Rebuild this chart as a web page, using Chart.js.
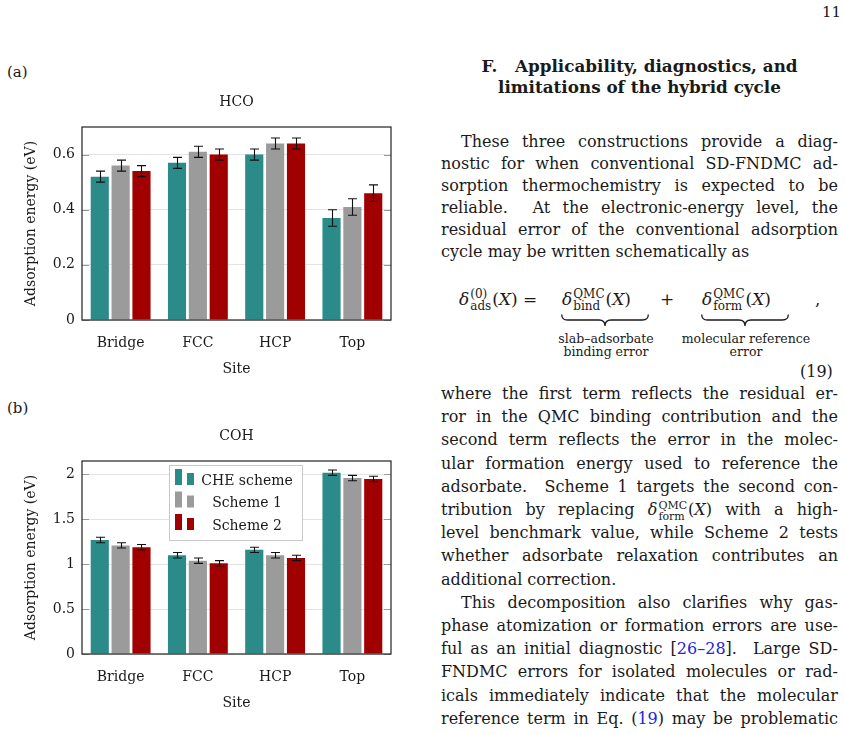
<!DOCTYPE html>
<html>
<head>
<meta charset="utf-8">
<script src="https://cdn.jsdelivr.net/npm/chart.js@4.4.1/dist/chart.umd.min.js"></script>
<style>
  body { margin: 0; background: #fff; }
  #page { position: relative; width: 845px; height: 734px; overflow: hidden;
          font-family: "DejaVu Serif", serif; color: #1a1a1a; }
  .abs { position: absolute; white-space: nowrap; }
  .ln { position: absolute; left: 441px; width: 397px; height: 22px; line-height: 22px;
        font-size: 16px; text-align: justify; text-align-last: justify; }
  .ln.last { text-align-last: left; }
  .ln.ind { text-indent: 20px; }
  .head { position: absolute; left: 441px; width: 397px; text-align: center; font-weight: bold;
          font-size: 16.8px; line-height: 22px; height: 22px; }
  .ss { display: inline-flex; flex-direction: column; font-size: 11px; line-height: 11px;
        vertical-align: 6px; margin: 0 1px; }
  .eq { position: absolute; font-size: 17px; line-height: 24px; white-space: nowrap; }
  .eq .ss { font-size: 12px; line-height: 12px; vertical-align: 7px; }
  .note { position: absolute; font-size: 12.5px; line-height: 12.5px; text-align: center;
          width: 150px; }
  .cite { color: #2323dc; }
  canvas { position: absolute; left: 0; }
</style>
</head>
<body>
<div id="page">
  <div class="abs" style="left:822px; top:3px; font-size:15px;">11</div>
  <div class="abs" style="left:7px; top:63px; font-size:15px;">(a)</div>
  <div class="abs" style="left:7px; top:399px; font-size:15px;">(b)</div>

  <canvas id="hcoChart" width="420" height="300" style="top:90px"></canvas>
  <canvas id="cohChart" width="420" height="300" style="top:424px"></canvas>

  <div class="head" style="top:55px">F.&nbsp;&nbsp;&nbsp;Applicability, diagnostics, and</div>
  <div class="head" style="top:76px">limitations of the hybrid cycle</div>

  <div class="ln ind" style="top:131px">These three constructions provide a diag-</div>
  <div class="ln" style="top:153px">nostic for when conventional SD-FNDMC ad-</div>
  <div class="ln" style="top:175px">sorption thermochemistry is expected to be</div>
  <div class="ln" style="top:197px">reliable.&nbsp; At the electronic-energy level, the</div>
  <div class="ln" style="top:219px">residual error of the conventional adsorption</div>
  <div class="ln last" style="top:241px">cycle may be written schematically as</div>

  <div class="eq" style="left:459px; top:287px"><i>δ</i><span class="ss"><span>(0)</span><span>ads</span></span>(<i>X</i>) =</div>
  <div class="eq" style="left:562px; top:287px"><i>δ</i><span class="ss"><span>QMC</span><span>bind</span></span>(<i>X</i>)</div>
  <div class="eq" style="left:660px; top:287px">+</div>
  <div class="eq" style="left:702px; top:287px"><i>δ</i><span class="ss"><span>QMC</span><span>form</span></span>(<i>X</i>)</div>
  <div class="eq" style="left:815px; top:287px">,</div>
  <svg class="abs" style="left:561px; top:314px" width="88" height="13">
    <path d="M0.7,0.5 Q0.7,6 6.5,6 L38,6 Q44,6 44,12 Q44,6 50,6 L81.5,6 Q87.3,6 87.3,0.5" fill="none" stroke="#1a1a1a" stroke-width="1.3"/>
  </svg>
  <svg class="abs" style="left:701px; top:314px" width="88" height="13">
    <path d="M0.7,0.5 Q0.7,6 6.5,6 L38,6 Q44,6 44,12 Q44,6 50,6 L81.5,6 Q87.3,6 87.3,0.5" fill="none" stroke="#1a1a1a" stroke-width="1.3"/>
  </svg>
  <div class="note" style="left:531px; top:333px">slab–adsorbate<br>binding error</div>
  <div class="note" style="left:671px; top:333px">molecular reference<br>error</div>
  <div class="abs" style="left:800px; top:361px; font-size:16px; line-height:22px;">(19)</div>

  <div class="ln" style="top:383px">where the first term reflects the residual er-</div>
  <div class="ln" style="top:406px">ror in the QMC binding contribution and the</div>
  <div class="ln" style="top:429px">second term reflects the error in the molec-</div>
  <div class="ln" style="top:453px">ular formation energy used to reference the</div>
  <div class="ln" style="top:476px">adsorbate.&nbsp; Scheme 1 targets the second con-</div>
  <div class="ln" style="top:499px">tribution by replacing <i>δ</i><span class="ss"><span>QMC</span><span>form</span></span>(<i>X</i>) with a high-</div>
  <div class="ln" style="top:522px">level benchmark value, while Scheme 2 tests</div>
  <div class="ln" style="top:545px">whether adsorbate relaxation contributes an</div>
  <div class="ln last" style="top:569px">additional correction.</div>
  <div class="ln ind" style="top:592px">This decomposition also clarifies why gas-</div>
  <div class="ln" style="top:615px">phase atomization or formation errors are use-</div>
  <div class="ln" style="top:638px">ful as an initial diagnostic [<span class="cite">26–28</span>].&nbsp; Large SD-</div>
  <div class="ln" style="top:661px">FNDMC errors for isolated molecules or rad-</div>
  <div class="ln" style="top:685px">icals immediately indicate that the molecular</div>
  <div class="ln" style="top:708px">reference term in Eq. (<span class="cite">19</span>) may be problematic</div>
</div>

<script>
// categories and series
const sites = ['Bridge', 'FCC', 'HCP', 'Top'];
const schemeNames = ['CHE scheme', 'Scheme 1', 'Scheme 2'];
const schemeColors = ['#2a8b89', '#9b9b9b', '#a00000'];

// (a) HCO adsorption energies (eV) and error bars
const hcoChe = [0.52, 0.57, 0.60, 0.37];
const hcoS1 = [0.56, 0.61, 0.64, 0.41];
const hcoS2 = [0.54, 0.60, 0.64, 0.46];
const hcoCheErr = [0.02, 0.02, 0.02, 0.03];
const hcoS1Err = [0.02, 0.02, 0.02, 0.03];
const hcoS2Err = [0.02, 0.02, 0.02, 0.03];
const hcoTicks = [0, 0.2, 0.4, 0.6];

// (b) COH adsorption energies (eV) and error bars
const cohChe = [1.27, 1.10, 1.16, 2.02];
const cohS1 = [1.21, 1.04, 1.10, 1.96];
const cohS2 = [1.19, 1.01, 1.07, 1.95];
const cohCheErr = [0.03, 0.03, 0.03, 0.03];
const cohS1Err = [0.03, 0.03, 0.03, 0.03];
const cohS2Err = [0.03, 0.03, 0.03, 0.03];
const cohTicks = [0, 0.5, 1, 1.5, 2];

const ink = '#1a1a1a';
const serif = {family: '"DejaVu Serif", serif', size: 14, weight: 'normal'};

// error bars drawn from the y scale
const errorBars = {
  id: 'errorBars',
  afterDatasetsDraw(chart) {
    const ctx = chart.ctx;
    const y = chart.scales.y;
    ctx.save();
    ctx.strokeStyle = '#111';
    ctx.lineWidth = 1.1;
    chart.data.datasets.forEach((ds, i) => {
      chart.getDatasetMeta(i).data.forEach((bar, j) => {
        const hi = y.getPixelForValue(ds.data[j] + ds.errors[j]);
        const lo = y.getPixelForValue(ds.data[j] - ds.errors[j]);
        const x = Math.round(bar.x) + 0.5;
        ctx.beginPath();
        ctx.moveTo(x, hi); ctx.lineTo(x, lo);
        ctx.moveTo(x - 4.5, hi); ctx.lineTo(x + 4.5, hi);
        ctx.moveTo(x - 4.5, lo); ctx.lineTo(x + 4.5, lo);
        ctx.stroke();
      });
    });
    ctx.restore();
  }
};

// axis box, inner tick marks and the panel title centred over the plot
const frame = {
  id: 'frame',
  afterDatasetsDraw(chart, args, opts) {
    const {ctx, chartArea: a} = chart;
    const y = chart.scales.y;
    ctx.save();
    ctx.strokeStyle = '#9a9a9a';
    ctx.lineWidth = 1;
    y.ticks.forEach(t => {
      const py = Math.round(y.getPixelForValue(t.value)) + 0.5;
      ctx.beginPath();
      ctx.moveTo(a.left, py); ctx.lineTo(a.left + 7, py);
      ctx.moveTo(a.right - 7, py); ctx.lineTo(a.right, py);
      ctx.stroke();
    });
    ctx.strokeStyle = '#222';
    ctx.lineWidth = 1.2;
    ctx.strokeRect(a.left, a.top, a.right - a.left, a.bottom - a.top);
    ctx.fillStyle = ink;
    ctx.font = '14px "DejaVu Serif"';
    ctx.textAlign = 'center';
    ctx.textBaseline = 'middle';
    ctx.fillText(opts.title, (a.left + a.right) / 2, a.top - 25);
    ctx.restore();
  }
};

// pgfplots style legend box
const boxLegend = {
  id: 'boxLegend',
  afterDraw(chart, args, opts) {
    if (!opts.show) return;
    const {ctx, chartArea: a} = chart;
    const x0 = a.left + 87, y0 = a.top + 4, w = 133, h = 75;
    ctx.save();
    ctx.fillStyle = '#fff';
    ctx.fillRect(x0, y0, w, h);
    ctx.strokeStyle = '#c8c8c8';
    ctx.lineWidth = 1;
    ctx.strokeRect(x0 + 0.5, y0 + 0.5, w, h);
    ctx.font = '14px "DejaVu Serif"';
    ctx.textAlign = 'center';
    ctx.textBaseline = 'middle';
    chart.data.datasets.forEach((ds, i) => {
      const cy = y0 + 15 + i * 22.5;
      ctx.fillStyle = ds.backgroundColor;
      ctx.fillRect(x0 + 6, cy - 11, 7, 16);
      ctx.fillRect(x0 + 18, cy - 7, 7, 12);
      ctx.fillStyle = ink;
      ctx.fillText(ds.label, x0 + 78, cy + 1);
    });
    ctx.restore();
  }
};

function makeChart(canvasId, title, series, errors, ticks, yMax, showLegend) {
  return new Chart(document.getElementById(canvasId), {
    type: 'bar',
    data: {
      labels: sites,
      datasets: series.map((vals, i) => ({
        label: schemeNames[i],
        data: vals,
        errors: errors[i],
        backgroundColor: schemeColors[i],
        categoryPercentage: 0.81,
        barPercentage: 0.87
      }))
    },
    options: {
      responsive: false,
      animation: false,
      layout: {padding: {left: 0, right: 29, top: 37, bottom: 0}},
      plugins: {
        legend: {display: false},
        tooltip: {enabled: false},
        title: {display: false},
        frame: {title: title},
        boxLegend: {show: showLegend}
      },
      scales: {
        x: {
          grid: {display: false, drawTicks: false},
          border: {display: false},
          ticks: {color: ink, font: serif, padding: 15},
          title: {display: true, text: 'Site', color: ink, font: serif, padding: {top: 0, bottom: 12}},
          afterFit(s) { s.height = 70; }
        },
        y: {
          min: 0,
          max: yMax,
          grid: {color: '#e3e3e3', drawTicks: false},
          border: {display: false},
          ticks: {color: ink, font: serif, padding: 7, callback: v => String(v)},
          afterBuildTicks(s) { s.ticks = ticks.map(v => ({value: v})); },
          title: {display: true, text: 'Adsorption energy (eV)', color: ink, font: serif, padding: {top: 23, bottom: 0}},
          afterFit(s) { s.width = 82; }
        }
      }
    },
    plugins: [errorBars, frame, boxLegend]
  });
}

makeChart('hcoChart', 'HCO', [hcoChe, hcoS1, hcoS2], [hcoCheErr, hcoS1Err, hcoS2Err], hcoTicks, 0.7, false);
makeChart('cohChart', 'COH', [cohChe, cohS1, cohS2], [cohCheErr, cohS1Err, cohS2Err], cohTicks, 2.15, true);
</script>
</body>
</html>
